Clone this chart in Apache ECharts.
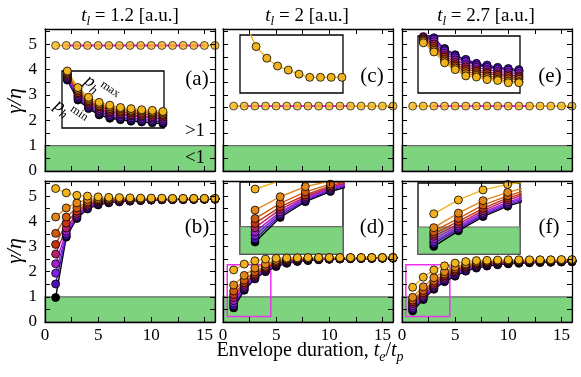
<!DOCTYPE html>
<html>
<head>
<meta charset="utf-8">
<script src="https://cdn.jsdelivr.net/npm/echarts@6/dist/echarts.min.js"></script>
<style>
html, body { margin: 0; padding: 0; background: #fff; }
#chart { width: 581px; height: 377px; }
</style>
</head>
<body>
<div id="chart"></div>
<script>
const FONT = 'Liberation Serif';

// colours from p_h min (black) to p_h max (gold)
const colors = ['#000000', '#4a10b8', '#7c22e8', '#a020c8', '#b8206e', '#c23418', '#d05a0c', '#e2861a', '#f2b41e'];

const xs = [1, 2, 3, 4, 5, 6, 7, 8, 9, 10, 11, 12, 13, 14, 15, 16];

// top row: flat curves
const topA = [4.95, 4.95, 4.95, 4.95, 4.95, 4.95, 4.95, 4.95, 4.95, 4.95, 4.95, 4.95, 4.95, 4.95, 4.95, 4.95];
const topC = [2.56, 2.56, 2.56, 2.56, 2.56, 2.56, 2.56, 2.56, 2.56, 2.56, 2.56, 2.56, 2.56, 2.56, 2.56, 2.56];
const topE = [2.56, 2.56, 2.56, 2.56, 2.56, 2.56, 2.56, 2.56, 2.56, 2.56, 2.56, 2.56, 2.56, 2.56, 2.56, 2.56];
const magA = [2, 15];
const magC = [2, 12];
const magE = [3, 12];

// bottom row, one column per x, values from black to gold
const bCols = [
  [0.97, 1.51, 1.94, 2.31, 2.7, 3.08, 3.52, 4.17, 5.3],
  [3.37, 3.43, 3.51, 3.6, 3.73, 3.93, 4.17, 4.53, 5.13],
  [4.11, 4.15, 4.19, 4.24, 4.31, 4.4, 4.53, 4.73, 5.03],
  [4.49, 4.52, 4.56, 4.6, 4.64, 4.71, 4.77, 4.87, 5.0],
  [4.65, 4.68, 4.71, 4.74, 4.77, 4.81, 4.85, 4.9, 4.97],
  [4.73, 4.75, 4.77, 4.79, 4.81, 4.84, 4.87, 4.9, 4.95],
  [4.77, 4.79, 4.8, 4.82, 4.84, 4.86, 4.88, 4.9, 4.94],
  [4.8, 4.81, 4.83, 4.84, 4.85, 4.87, 4.88, 4.9, 4.93],
  [4.82, 4.83, 4.84, 4.85, 4.86, 4.87, 4.88, 4.9, 4.92],
  [4.84, 4.85, 4.85, 4.86, 4.87, 4.88, 4.89, 4.9, 4.92],
  [4.85, 4.86, 4.86, 4.87, 4.87, 4.88, 4.89, 4.9, 4.92],
  [4.86, 4.86, 4.87, 4.87, 4.88, 4.88, 4.89, 4.9, 4.91],
  [4.86, 4.87, 4.87, 4.88, 4.88, 4.89, 4.89, 4.9, 4.91],
  [4.87, 4.87, 4.88, 4.88, 4.88, 4.89, 4.9, 4.9, 4.91],
  [4.87, 4.88, 4.88, 4.88, 4.89, 4.89, 4.9, 4.9, 4.91],
  [4.88, 4.88, 4.88, 4.89, 4.89, 4.9, 4.9, 4.9, 4.91]
];
const dCols = [
  [0.56, 0.65, 0.75, 0.85, 0.97, 1.09, 1.23, 1.47, 2.07],
  [1.26, 1.32, 1.37, 1.42, 1.49, 1.56, 1.66, 1.85, 2.3],
  [1.71, 1.74, 1.78, 1.81, 1.85, 1.9, 1.99, 2.14, 2.43],
  [2.0, 2.03, 2.06, 2.09, 2.12, 2.16, 2.21, 2.3, 2.5],
  [2.2, 2.23, 2.26, 2.29, 2.32, 2.36, 2.4, 2.45, 2.53],
  [2.33, 2.35, 2.37, 2.39, 2.42, 2.44, 2.47, 2.5, 2.54],
  [2.4, 2.42, 2.43, 2.45, 2.47, 2.49, 2.51, 2.53, 2.55],
  [2.44, 2.45, 2.47, 2.48, 2.5, 2.51, 2.53, 2.54, 2.56],
  [2.47, 2.48, 2.49, 2.5, 2.51, 2.52, 2.54, 2.55, 2.56],
  [2.49, 2.5, 2.5, 2.51, 2.52, 2.53, 2.54, 2.55, 2.56],
  [2.5, 2.51, 2.51, 2.52, 2.53, 2.53, 2.54, 2.55, 2.56],
  [2.51, 2.52, 2.52, 2.53, 2.53, 2.54, 2.55, 2.55, 2.56],
  [2.52, 2.52, 2.53, 2.53, 2.54, 2.54, 2.55, 2.55, 2.56],
  [2.52, 2.53, 2.53, 2.54, 2.54, 2.55, 2.55, 2.56, 2.56],
  [2.53, 2.53, 2.54, 2.54, 2.55, 2.55, 2.55, 2.56, 2.56],
  [2.53, 2.54, 2.54, 2.54, 2.55, 2.55, 2.56, 2.56, 2.56]
];
const fCols = [
  [0.44, 0.52, 0.58, 0.65, 0.73, 0.8, 0.87, 0.98, 1.38],
  [0.89, 0.94, 0.98, 1.03, 1.09, 1.16, 1.25, 1.4, 1.78],
  [1.3, 1.34, 1.38, 1.42, 1.47, 1.54, 1.63, 1.76, 2.07],
  [1.6, 1.64, 1.68, 1.72, 1.78, 1.84, 1.9, 2.0, 2.23],
  [1.82, 1.86, 1.9, 1.95, 2.0, 2.05, 2.11, 2.19, 2.34],
  [2.02, 2.05, 2.09, 2.13, 2.17, 2.21, 2.26, 2.31, 2.4],
  [2.14, 2.17, 2.2, 2.23, 2.27, 2.3, 2.34, 2.38, 2.44],
  [2.22, 2.24, 2.27, 2.29, 2.32, 2.35, 2.38, 2.41, 2.45],
  [2.27, 2.29, 2.31, 2.33, 2.36, 2.38, 2.41, 2.43, 2.46],
  [2.31, 2.32, 2.34, 2.36, 2.38, 2.4, 2.42, 2.44, 2.47],
  [2.33, 2.35, 2.36, 2.38, 2.4, 2.41, 2.43, 2.45, 2.47],
  [2.35, 2.36, 2.38, 2.39, 2.41, 2.42, 2.44, 2.45, 2.47],
  [2.36, 2.37, 2.39, 2.4, 2.41, 2.43, 2.44, 2.46, 2.47],
  [2.37, 2.38, 2.39, 2.41, 2.42, 2.43, 2.45, 2.46, 2.47],
  [2.38, 2.39, 2.4, 2.41, 2.42, 2.44, 2.45, 2.46, 2.48],
  [2.39, 2.4, 2.41, 2.42, 2.43, 2.44, 2.45, 2.46, 2.48]
];

// top insets (no scale shown, inset units 0..1)
const insetXs = [1, 2, 3, 4, 5, 6, 7, 8, 9, 10, 11];
const aInsetCols = [
  [1.45, 1.48, 1.5, 1.53, 1.56, 1.6, 1.63, 1.67, 1.7],
  [0.84, 0.86, 0.88, 0.9, 0.92, 0.94, 0.96, 0.98, 1.0],
  [0.49, 0.52, 0.55, 0.57, 0.6, 0.62, 0.65, 0.68, 0.71],
  [0.34, 0.36, 0.39, 0.41, 0.43, 0.46, 0.48, 0.51, 0.54],
  [0.23, 0.26, 0.29, 0.31, 0.34, 0.37, 0.39, 0.42, 0.45],
  [0.17, 0.2, 0.23, 0.26, 0.28, 0.31, 0.34, 0.37, 0.4],
  [0.145, 0.17, 0.2, 0.23, 0.25, 0.28, 0.31, 0.34, 0.36],
  [0.12, 0.15, 0.18, 0.21, 0.23, 0.26, 0.29, 0.31, 0.34],
  [0.105, 0.13, 0.16, 0.19, 0.21, 0.24, 0.27, 0.3, 0.32],
  [0.09, 0.12, 0.15, 0.18, 0.2, 0.23, 0.26, 0.28, 0.31],
  [0.075, 0.1, 0.13, 0.16, 0.19, 0.22, 0.24, 0.27, 0.29]
];
const eInsetCols = [
  [1.5, 1.5, 1.47, 1.44, 1.41, 1.38, 1.35, 1.32, 1.29],
  [1.02, 1.03, 1.01, 0.99, 0.97, 0.95, 0.93, 0.91, 0.88],
  [0.9, 0.97, 0.94, 0.9, 0.86, 0.82, 0.78, 0.75, 0.72],
  [0.78, 0.77, 0.74, 0.7, 0.66, 0.63, 0.59, 0.56, 0.53],
  [0.67, 0.66, 0.62, 0.58, 0.54, 0.5, 0.47, 0.44, 0.41],
  [0.57, 0.59, 0.55, 0.5, 0.46, 0.42, 0.38, 0.34, 0.3],
  [0.5, 0.52, 0.48, 0.45, 0.41, 0.38, 0.34, 0.31, 0.28],
  [0.47, 0.49, 0.45, 0.41, 0.37, 0.34, 0.3, 0.27, 0.235],
  [0.43, 0.45, 0.42, 0.38, 0.34, 0.31, 0.27, 0.24, 0.22],
  [0.41, 0.43, 0.4, 0.36, 0.32, 0.29, 0.25, 0.21, 0.18],
  [0.39, 0.41, 0.38, 0.34, 0.3, 0.27, 0.24, 0.2, 0.18]
];
const cInset = [1.7, 1.2, 0.8, 0.6, 0.465, 0.395, 0.325, 0.27, 0.27, 0.27, 0.27];

// zoom window shown in the (d) and (f) insets
const zoomD = { x: [0.4, 4.5], y: [0.22, 2.27] };
const zoomF = { x: [0.36, 4.5], y: [0.22, 2.27] };

const grids = [], xAxes = [], yAxes = [], series = [];

function addMain(left, top, height, showX, showY) {
  const g = grids.length;
  grids.push({ left: left, top: top, width: 170, height: height, containLabel: false, outerBoundsMode: 'none' });
  const line = { show: true, onZero: false, lineStyle: { color: '#000', width: 1.3 } };
  const tick = { show: true, inside: true, length: 5, lineStyle: { color: '#000', width: 1 } };
  const lab = { fontFamily: FONT, fontSize: 17, color: '#000' };
  const xBase = { gridIndex: g, type: 'value', min: 0, max: 16, interval: 2.5, z: 10,
    axisLine: line, axisTick: tick, splitLine: { show: false } };
  const yBase = { gridIndex: g, type: 'value', min: 0, max: 5.6, interval: 0.5, z: 10,
    axisLine: line, axisTick: tick, splitLine: { show: false } };
  xAxes.push(Object.assign({}, xBase, { position: 'bottom',
    axisLabel: Object.assign({ show: showX, margin: 5, formatter: v => (v % 5 === 0 && v < 16) ? String(v) : '' }, lab) }));
  xAxes.push(Object.assign({}, xBase, { position: 'top', axisLabel: { show: false } }));
  yAxes.push(Object.assign({}, yBase, { position: 'left',
    axisLabel: Object.assign({ show: showY, margin: 8, formatter: v => (Math.abs(v - Math.round(v)) < 1e-6 && v < 5.55) ? String(Math.round(v)) : '' }, lab) }));
  yAxes.push(Object.assign({}, yBase, { position: 'right', axisLabel: { show: false } }));
  return { x: xAxes.length - 2, y: yAxes.length - 2 };
}

function addInset(left, top, width, height, xr, yr) {
  const g = grids.length;
  grids.push({ left: left, top: top, width: width, height: height, show: true, borderColor: '#000', borderWidth: 1.3,
    backgroundColor: 'rgba(255,255,255,0)', containLabel: false, outerBoundsMode: 'none' });
  xAxes.push({ gridIndex: g, type: 'value', min: xr[0], max: xr[1], show: false });
  yAxes.push({ gridIndex: g, type: 'value', min: yr[0], max: yr[1], show: false });
  return { x: xAxes.length - 1, y: yAxes.length - 1 };
}

function addGreen(ax) {
  series.push({ type: 'line', xAxisIndex: ax.x, yAxisIndex: ax.y, data: [], silent: true, z: 1,
    markArea: { silent: true, itemStyle: { color: '#7ed47e', borderColor: '#6a6a6a', borderWidth: 1.2 },
      data: [[{ yAxis: 0 }, { yAxis: 1 }]] } });
}

function addCurves(ax, cols, xv, size) {
  colors.forEach((c, k) => {
    series.push({ type: 'line', xAxisIndex: ax.x, yAxisIndex: ax.y, clip: true, z: 3,
      data: cols.map((col, i) => [xv[i], col[k]]),
      symbol: 'circle', symbolSize: size, showSymbol: true, showAllSymbol: true,
      lineStyle: { color: c, width: 1.4 },
      itemStyle: { color: c, borderColor: '#000', borderWidth: 0.8 } });
  });
}

function addFlat(ax, vals, mag) {
  series.push({ type: 'line', xAxisIndex: ax.x, yAxisIndex: ax.y, z: 2, showSymbol: false,
    data: vals.map((v, i) => [xs[i], v]), lineStyle: { color: colors[8], width: 1.6 } });
  series.push({ type: 'line', xAxisIndex: ax.x, yAxisIndex: ax.y, z: 3, showSymbol: false,
    data: mag.map(x => [x, vals[xs.indexOf(x)]]), lineStyle: { color: '#f020e8', width: 1.8 } });
  series.push({ type: 'scatter', xAxisIndex: ax.x, yAxisIndex: ax.y, z: 4, symbolSize: 8,
    data: vals.map((v, i) => [xs[i], v]), itemStyle: { color: colors[8], borderColor: '#000', borderWidth: 0.8 } });
}

function addZoomBox(ax, zb) {
  series.push({ type: 'line', xAxisIndex: ax.x, yAxisIndex: ax.y, data: [], silent: true, z: 5,
    markArea: { silent: true, itemStyle: { color: 'rgba(0,0,0,0)', borderColor: '#f030f0', borderWidth: 1.5 },
      data: [[{ coord: [zb.x[0], zb.y[0]] }, { coord: [zb.x[1], zb.y[1]] }]] } });
}

// main panels
const pA = addMain(45, 29, 142, false, true);
const pC = addMain(223, 29, 142, false, false);
const pE = addMain(402, 29, 142, false, false);
const pB = addMain(45, 181, 141, true, true);
const pD = addMain(223, 181, 141, true, false);
const pF = addMain(402, 181, 141, true, false);

[pA, pC, pE, pB, pD, pF].forEach(addGreen);
addFlat(pA, topA, magA);
addFlat(pC, topC, magC);
addFlat(pE, topE, magE);
addCurves(pB, bCols, xs, 8);
addCurves(pD, dCols, xs, 8);
addCurves(pF, fCols, xs, 8);
addZoomBox(pD, zoomD);
addZoomBox(pF, zoomF);

// insets
const iA = addInset(62, 71, 102, 57, [1.5, 11.1], [0, 1]);
const iC = addInset(240, 35, 103, 58, [1.5, 11.1], [0, 1]);
const iE = addInset(418, 36, 102, 57, [1.5, 11.1], [0, 1]);
const iD = addInset(240, 182, 103, 72, zoomD.x, zoomD.y);
const iF = addInset(418, 183, 102, 71, zoomF.x, zoomF.y);

addCurves(iA, aInsetCols, insetXs, 8);
addCurves(iE, eInsetCols, insetXs, 8);
series.push({ type: 'line', xAxisIndex: iC.x, yAxisIndex: iC.y, clip: true, z: 3,
  data: cInset.map((v, i) => [insetXs[i], v]), symbol: 'circle', symbolSize: 8, showSymbol: true,
  lineStyle: { color: colors[8], width: 1.4 }, itemStyle: { color: colors[8], borderColor: '#000', borderWidth: 0.8 } });
addGreen(iD);
addGreen(iF);
addCurves(iD, dCols, xs, 8);
addCurves(iF, fCols, xs, 8);

function mathRich(size) {
  return {
    n: { fontFamily: FONT, fontSize: size, fill: '#000' },
    i: { fontFamily: FONT, fontSize: size, fontStyle: 'italic', fill: '#000' },
    s: { fontFamily: FONT, fontSize: Math.round(size * 0.7), fontStyle: 'italic', fill: '#000', padding: [Math.round(size * 0.6), 0, 0, 0] },
    u: { fontFamily: FONT, fontSize: Math.round(size * 0.65), fill: '#000', padding: [0, 0, Math.round(size * 0.55), 0] }
  };
}

function txt(x, y, text, size, opts) {
  return Object.assign({ type: 'text', x: x, y: y, z: 20, silent: true,
    style: { text: text, rich: mathRich(size), align: 'center', verticalAlign: 'middle',
      fontFamily: FONT, fontSize: size, fill: '#000' } }, opts || {});
}

const graphics = [
  txt(130, 16, '{i|t}{s|l}{n| = 1.2 [a.u.]}', 19),
  txt(307, 16, '{i|t}{s|l}{n| = 2 [a.u.]}', 19),
  txt(486, 16, '{i|t}{s|l}{n| = 2.7 [a.u.]}', 19),
  txt(15, 101, '{i|γ/η}', 22, { rotation: Math.PI / 2 }),
  txt(15, 251, '{i|γ/η}', 22, { rotation: Math.PI / 2 }),
  txt(310, 351, '{n|Envelope duration, }{i|t}{s|e}{n|/}{i|t}{s|p}', 20),
  txt(197, 79, '(a)', 21), txt(197, 227, '(b)', 21),
  txt(372, 76, '(c)', 21), txt(372, 227, '(d)', 21),
  txt(550, 76, '(e)', 21), txt(549, 227, '(f)', 21),
  txt(195, 131, '>1', 19), txt(195, 158, '<1', 19),
  txt(101, 89, '{i|p}{s|h}{u|max}', 18, { rotation: -0.6 }),
  txt(70, 113, '{i|p}{s|h}{u|min}', 18, { rotation: -0.6 })
];

const chart = echarts.init(document.getElementById('chart'), null, { renderer: 'canvas' });
chart.setOption({
  animation: false,
  backgroundColor: '#fff',
  grid: grids,
  xAxis: xAxes,
  yAxis: yAxes,
  series: series,
  graphic: graphics
});
</script>
</body>
</html>
